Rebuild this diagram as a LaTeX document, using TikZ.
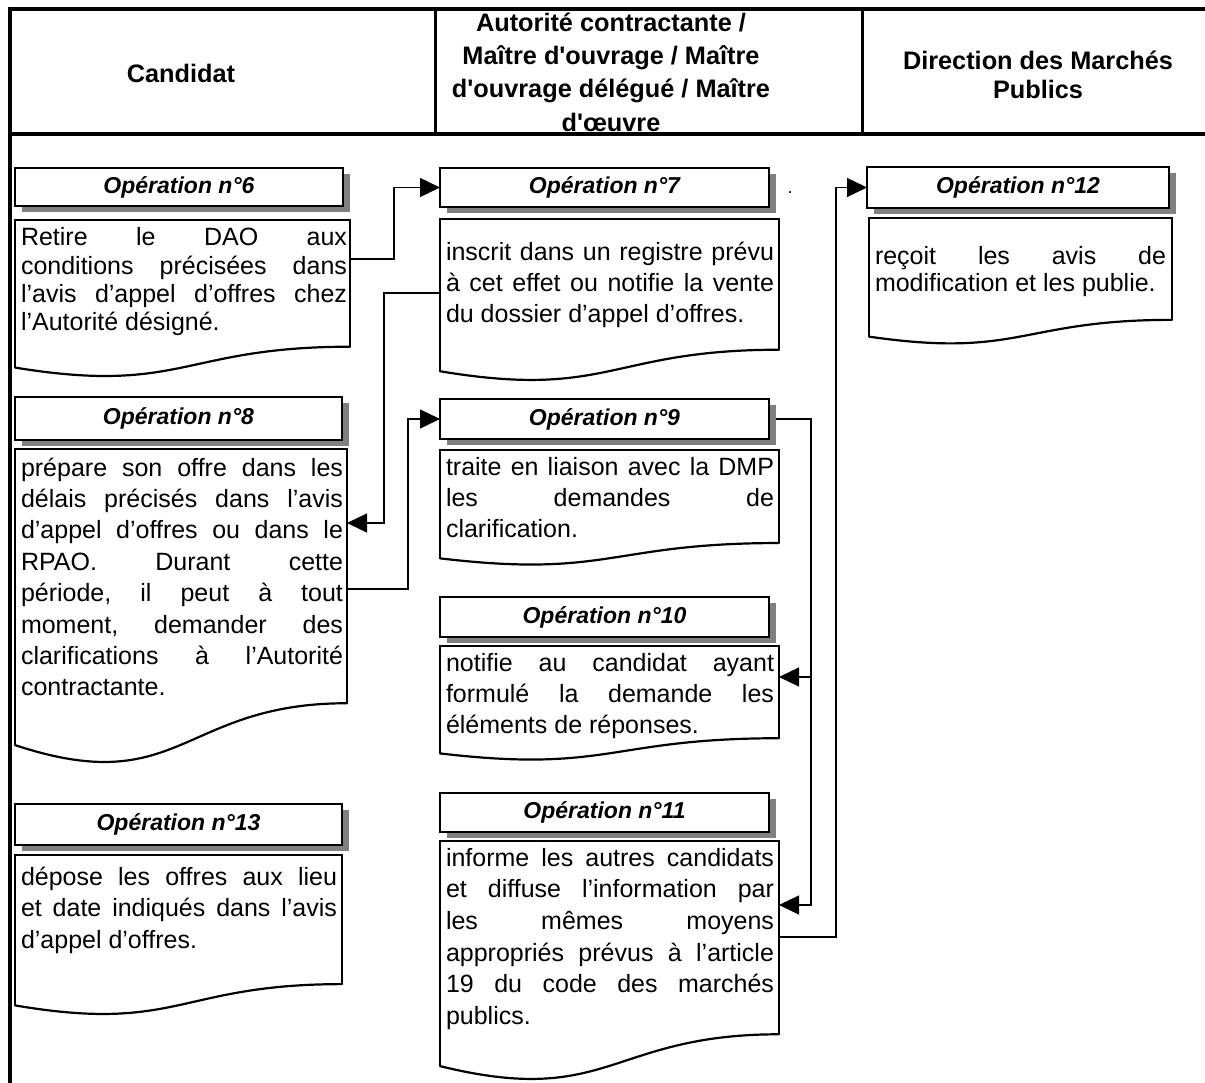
\documentclass[tikz,border=0pt]{standalone}
\usepackage{fontspec}
\setmainfont{Liberation Sans}
\usetikzlibrary{arrows.meta,calc}
\definecolor{shadowgray}{RGB}{128,128,128}
\tikzset{
  frame/.style={line width=4pt, draw=black},
  divider/.style={line width=3pt, draw=black},
  conn/.style={line width=1.3pt, draw=black},
  arr/.style={-{Triangle[length=20pt,width=19pt]}},
  ttl/.style={draw=black, line width=1.8pt, fill=white, inner sep=0pt, outer sep=0pt,
    anchor=north west, font=\fontsize{23}{27}\selectfont\bfseries\itshape},
  shadow/.style={fill=shadowgray},
  boxarea/.style={inner sep=0pt, outer sep=0pt, draw=none},
  docside/.style={line width=1.2pt, draw=black, line join=miter},
  doccurve/.style={line width=2.2pt, draw=black, line cap=round},
  btxt/.style={inner sep=0pt, outer sep=0pt, anchor=north west},
  hdrtxt/.style={inner sep=0pt, align=center},
}
\newcommand\lnstrut{\rule[-5.5pt]{0pt}{24.5pt}}
\newcommand\jln[1]{\hbox to\W{\frenchspacing\spaceskip=7pt plus 1fil\relax\lnstrut#1}}
\newcommand\lln[1]{\hbox{\lnstrut#1}}
\newcommand\bodyfont[1]{\fontsize{25}{#1}\selectfont}
\newcommand\docbox[5]{%
  \pgfmathsetmacro\dbR{#3+0.802*#5}%
  \pgfmathsetmacro\dbL{#3+0.934*#5}%
  \pgfmathsetmacro\dbC{#3+1.1075*#5}%
  \pgfmathsetmacro\dbM{(#2+#4)/2}%
  \pgfmathsetmacro\dbW{#4-#2}%
  \pgfmathsetmacro\dbH{0.802*#5}%
  \node[boxarea, minimum width=\dbW pt, minimum height=\dbH pt, anchor=north west] (#1) at (#2,#3) {};
  \draw[docside] (#2,\dbL) -- (#1.north west) -- (#1.north east) -- (#1.south east);
  \draw[doccurve] (#1.south east) .. controls (\dbM,\dbR) and (\dbM,\dbC) .. (#2,\dbL);
}
\begin{document}
\begin{tikzpicture}[x=1pt,y=-1pt]
\useasboundingbox (0,0) rectangle (1205,1083);

% header frame
\draw[frame] (8,9) -- (1205,9);
\draw[frame] (8,134) -- (1205,134);
\draw[frame] (10,7) -- (10,1083);
\draw[divider] (435,9) -- (435,134);
\draw[divider] (862,9) -- (862,134);

\node[hdrtxt, font=\fontsize{25.3}{33.3}\selectfont\bfseries] (h1) at (181,73) {Candidat};
\node[hdrtxt, font=\fontsize{25.3}{33.3}\selectfont\bfseries] (h2) at (611,72) {Autorité contractante /\\Maître d\textquotesingle ouvrage / Maître\\d\textquotesingle ouvrage délégué / Maître\\d\textquotesingle œuvre};
\node[hdrtxt, font=\fontsize{25.3}{28.5}\selectfont\bfseries] (h3) at (1038,75) {Direction des Marchés\\Publics};

% title boxes with shadows
\fill[shadow] (22,174) rectangle (350,212);
\node[ttl, minimum width=328pt, minimum height=38pt] (t6) at (15,168) {Opération n°6};
\fill[shadow] (22,403) rectangle (349,446);
\node[ttl, minimum width=327pt, minimum height=43pt] (t8) at (15,397) {Opération n°8};
\fill[shadow] (22,810) rectangle (349,851);
\node[ttl, minimum width=327pt, minimum height=41pt] (t13) at (15,804) {Opération n°13};
\fill[shadow] (447,174) rectangle (776,213);
\node[ttl, minimum width=329pt, minimum height=39pt] (t7) at (440,168) {Opération n°7};
\fill[shadow] (447,405) rectangle (776,445);
\node[ttl, minimum width=329pt, minimum height=40pt] (t9) at (440,399) {Opération n°9};
\fill[shadow] (447,603) rectangle (776,643);
\node[ttl, minimum width=329pt, minimum height=40pt] (t10) at (440,597) {Opération n°10};
\fill[shadow] (447,799) rectangle (776,838);
\node[ttl, minimum width=329pt, minimum height=39pt] (t11) at (440,793) {Opération n°11};
\fill[shadow] (874,173) rectangle (1176,214);
\node[ttl, minimum width=302pt, minimum height=41pt] (t12) at (867,167) {Opération n°12};

\node[inner sep=0pt, font=\fontsize{18}{20}\selectfont] (dot) at (790,193) {.};

% document boxes
\docbox{b6}{15}{220}{350}{158}
\docbox{b7}{440}{219}{779}{163}
\docbox{b8}{15}{449}{347}{317}
\docbox{b9}{440}{450}{779}{116}
\docbox{b10}{440}{646}{779}{115}
\docbox{b11}{440}{841}{779}{241}
\docbox{b12}{869}{218}{1172}{127}
\docbox{b13}{15}{855}{342}{161}

% texts
\node[btxt, font=\bodyfont{28.3}] (x6) at (21,227) {\def\W{326pt}\vtop{%
\jln{Retire le DAO aux}\jln{conditions précisées dans}\jln{l’avis d’appel d’offres chez}\lln{l’Autorité désigné.}}};
\node[btxt, font=\bodyfont{30.8}] (x7) at (446,242) {\def\W{328pt}\vtop{%
\jln{inscrit dans un registre prévu}\jln{à cet effet ou notifie la vente}\lln{du dossier d’appel d’offres.}}};
\node[btxt, font=\bodyfont{31.4}] (x8) at (21,457) {\def\W{322pt}\vtop{%
\jln{prépare son offre dans les}\jln{délais précisés dans l’avis}\jln{d’appel d’offres ou dans le}\jln{RPAO. Durant cette}\jln{période, il peut à tout}\jln{moment, demander des}\jln{clarifications à l’Autorité}\lln{contractante.}}};
\node[btxt, font=\bodyfont{31}] (x9) at (446,456) {\def\W{328pt}\vtop{%
\jln{traite en liaison avec la DMP}\jln{les demandes de}\lln{clarification.}}};
\node[btxt, font=\bodyfont{31}] (x10) at (446,652) {\def\W{328pt}\vtop{%
\jln{notifie au candidat ayant}\jln{formulé la demande les}\lln{éléments de réponses.}}};
\node[btxt, font=\bodyfont{31.7}] (x11) at (446,847) {\def\W{328pt}\vtop{%
\jln{informe les autres candidats}\jln{et diffuse l’information par}\jln{les mêmes moyens}\jln{appropriés prévus à l’article}\jln{19 du code des marchés}\lln{publics.}}};
\node[btxt, font=\bodyfont{26.7}] (x12) at (875,246) {\def\W{291pt}\vtop{%
\jln{reçoit les avis de}\lln{modification et les publie.}}};
\node[btxt, font=\bodyfont{31.7}] (x13) at (21,866) {\def\W{316pt}\vtop{%
\jln{dépose les offres aux lieu}\jln{et date indiqués dans l’avis}\lln{d’appel d’offres.}}};

% connectors
\draw[conn, arr] ($(b6.north east)+(0,39)$) -- ++(44,0) |- (t7.west);
\draw[conn, arr] ($(b7.north west)+(0,74)$) -- ++(-56,0) |- ($(b8.north east)+(0,74)$);
\draw[conn, arr] ($(b8.north east)+(0,140)$) -- ++(61,0) |- (t9.west);
\draw[conn, arr] ($(t9.east)+(7,0)$) -- ++(35,0) |- ($(b11.north east)+(0,64)$);
\draw[conn, arr] ($(t9.east)+(42,0)$) |- ($(b10.north east)+(0,31)$);
\draw[conn, arr] ($(b11.north east)+(0,96)$) -- ++(57,0) |- (t12.west);
\end{tikzpicture}
\end{document}
